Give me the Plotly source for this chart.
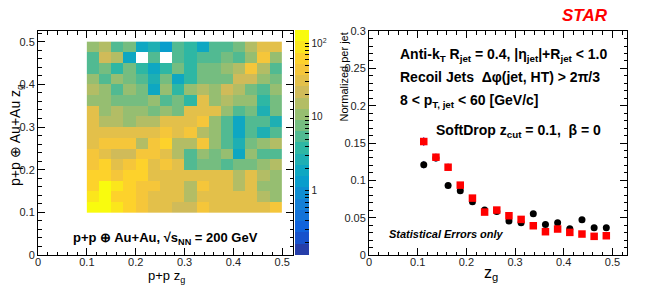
import numpy as np
import plotly.graph_objects as go

W, H = 664, 286

# ---------------- data ----------------
zg_centers = [0.1125, 0.1375, 0.1625, 0.1875, 0.2125, 0.2375, 0.2625, 0.2875,
              0.3125, 0.3375, 0.3625, 0.3875, 0.4125, 0.4375, 0.4625, 0.4875]

# 2D correlation counts: rows = p+p (+) Au+Au z_g (bottom 0.1 -> top 0.5),
# columns = p+p z_g (0.1 -> 0.5); None = empty bin
corr_counts = [
    [127, 127, 90, 63, 44, 31, 31, 22, 22, 44, 31, 31, 31, 31, 31, 44],
    [90, 127, 63, 63, 44, 31, 31, 31, 15, 31, 31, 31, 31, 31, 15, 11],
    [63, 127, 90, 63, 44, 44, 31, 31, 15, 44, 31, 31, 15, 31, 11, 11],
    [63, 63, 44, 63, 63, 31, 31, 31, 31, 31, 31, 31, 15, 31, 15, 11],
    [44, 63, 31, 44, 63, 31, 44, 31, 5.4, 7.6, 7.6, 5.4, 7.6, 7.6, 11, 15],
    [44, 31, 22, 22, 44, 44, 31, 15, 5.4, 11, 7.6, 11, 1.9, 11, 5.4, 5.4],
    [31, 44, 44, 44, 15, 44, 63, 15, 15, 44, 11, 5.4, 2.7, 7.6, 11, 15],
    [31, 31, 31, 31, 31, 31, 44, 31, 44, 15, 11, 5.4, 1.9, 5.4, 2.7, 5.4],
    [31, 15, 15, 11, 15, 15, 31, 31, 31, 44, 11, 5.4, 1.9, 5.4, 5.4, 2.7],
    [31, 11, 15, 11, 11, 7.6, 11, 7.6, 31, 31, 31, 11, 5.4, 7.6, 2.7, 7.6],
    [11, 11, 7.6, 7.6, 7.6, 11, 5.4, 7.6, 3.8, 31, 11, 15, 11, 11, 3.8, 7.6],
    [15, 11, 5.4, 11, 7.6, 1.9, 11, 3.8, 11, 15, 11, 22, 15, 7.6, 5.4, 11],
    [11, 5.4, 11, 7.6, 5.4, 2.7, 7.6, 1.9, 3.8, 7.6, 7.6, 7.6, 22, 22, 11, 7.6],
    [5.4, 7.6, 3.8, 7.6, 3.8, 1.9, 3.8, 7.6, 3.8, 7.6, 7.6, 11, 15, 44, 15, 5.4],
    [5.4, 22, 15, 1.9, None, 5.4, None, 5.4, 3.8, 5.4, 5.4, 7.6, 5.4, 11, 44, 11],
    [11, 15, 5.4, 7.6, 1.9, 2.7, 1.3, 5.4, 3.8, 1.9, 5.4, 5.4, 7.6, 15, 31, 31],
]

# normalized z_g distributions
pp_zg = [0.121, 0.130, 0.093, 0.086, 0.0713, 0.0602, 0.0584, 0.0455,
         0.0432, 0.0553, 0.041, 0.0432, 0.0352, 0.0472, 0.0365, 0.0365]
pp_err = [0.005, 0.005, 0.004, 0.004, 0.003, 0.003, 0.003, 0.0025,
          0.0025, 0.0025, 0.0025, 0.0025, 0.0025, 0.0025, 0.0025, 0.0025]
emb_zg = [0.152, 0.131, 0.1176, 0.0936, 0.0762, 0.0575, 0.0602, 0.0526,
          0.0477, 0.0392, 0.0312, 0.0348, 0.0303, 0.0281, 0.025, 0.0258]
emb_err = [0.006, 0.005, 0.005, 0.004, 0.0035, 0.003, 0.003, 0.0025,
           0.0025, 0.0025, 0.0025, 0.0025, 0.0025, 0.0025, 0.0025, 0.0025]

cb_major = [1, 10, 100]
cb_major_text = ["1", "10", "10<sup>2</sup>"]

# ---------------- styling helpers ----------------
FONT = "Liberation Sans, Arial, Helvetica, sans-serif"
ZMIN, ZMAX = -0.872, 2.18
NCONT = 20


def px(x):
    return x / W


def py(y):
    return 1 - y / H


# ROOT kBird palette
st = [0, .125, .25, .375, .5, .625, .75, .875, 1]
rr = [0.2082, 0.0592, 0.0780, 0.0232, 0.1802, 0.5301, 0.8186, 0.9956, 0.9764]
gg = [0.1664, 0.3599, 0.5041, 0.6419, 0.7178, 0.7492, 0.7328, 0.7862, 0.9832]
bb = [0.5293, 0.8684, 0.8385, 0.7914, 0.6425, 0.4662, 0.3499, 0.1968, 0.0539]


def bird(f):
    r = np.interp(f, st, rr)
    g = np.interp(f, st, gg)
    b = np.interp(f, st, bb)
    return "rgb(%d,%d,%d)" % (round(r * 255), round(g * 255), round(b * 255))


cscale = []
for i in range(NCONT):
    c = bird(min((i + 0.99) / NCONT, 1.0))
    cscale.append([i / NCONT, c])
    cscale.append([(i + 1) / NCONT, c])

cb_vals, cb_text = [], []
for dec in [0.1, 1, 10]:
    for m in range(1, 10):
        v = dec * m
        lv = np.log10(v)
        if ZMIN < lv < ZMAX:
            cb_vals.append(lv)
            rv = round(v, 6)
            cb_text.append(cb_major_text[cb_major.index(int(rv))] if rv in cb_major else "")
cb_vals.append(2.0)
cb_text.append(cb_major_text[2])

z = np.log10(np.array(corr_counts, dtype=float))

fig = go.Figure()
fig.add_trace(go.Heatmap(
    x=zg_centers, y=zg_centers, z=z, zmin=ZMIN, zmax=ZMAX,
    colorscale=cscale, hoverongaps=False,
    colorbar=dict(x=px(295), xanchor="left", xref="paper",
                  y=py(255), yanchor="bottom", len=225 / H, lenmode="fraction",
                  thickness=14, thicknessmode="pixels", xpad=0, ypad=0,
                  outlinewidth=0, ticks="inside", ticklen=4, tickcolor="black",
                  tickvals=cb_vals, ticktext=cb_text,
                  tickfont=dict(family=FONT, size=10, color="#222")),
    xaxis="x", yaxis="y"))

err_col = "#2b3bd0"
fig.add_trace(go.Scatter(
    x=zg_centers, y=pp_zg, mode="markers",
    marker=dict(symbol="circle", size=7, color="black"),
    error_y=dict(type="data", array=pp_err, color=err_col, thickness=1, width=0),
    xaxis="x2", yaxis="y2", showlegend=False))
fig.add_trace(go.Scatter(
    x=zg_centers, y=emb_zg, mode="markers",
    marker=dict(symbol="square", size=7.5, color="#ff0000"),
    error_y=dict(type="data", array=emb_err, color=err_col, thickness=1, width=0),
    xaxis="x2", yaxis="y2", showlegend=False))

ydom = [py(255), py(31)]
common = dict(showline=True, linecolor="black", linewidth=1, mirror="ticks",
              ticks="inside", ticklen=7, tickcolor="black", showgrid=False,
              zeroline=False, tickfont=dict(family=FONT, size=11, color="#222"),
              automargin=False)
xminor = dict(dtick=0.02, ticks="inside", ticklen=3.5, tickcolor="black")

fig.update_layout(
    width=W, height=H, margin=dict(l=0, r=0, t=0, b=0, autoexpand=False),
    paper_bgcolor="white", plot_bgcolor="white", showlegend=False,
    xaxis=dict(domain=[px(38), px(293)], range=[0, 0.522], dtick=0.1, tick0=0,
               minor=xminor, anchor="y", ticklabelstandoff=-3, **common),
    yaxis=dict(domain=ydom, range=[0, 0.525], dtick=0.1, tick0=0,
               minor=xminor, anchor="x", ticklabelstandoff=0, **common),
    xaxis2=dict(domain=[px(369), px(627)], range=[0, 0.53], dtick=0.1, tick0=0,
                minor=xminor, anchor="y2", ticklabelstandoff=-3, **common),
    yaxis2=dict(domain=ydom, range=[0, 0.3001], dtick=0.05, tick0=0,
                minor=dict(dtick=0.01, ticks="inside", ticklen=3.5, tickcolor="black"),
                anchor="x2", ticklabelstandoff=0, **common),
)


def ann(text, x, y, size, xanchor="left", yanchor="middle", color="black", angle=0):
    fig.add_annotation(text=text, x=px(x), y=py(y), xref="paper", yref="paper",
                       xanchor=xanchor, yanchor=yanchor, showarrow=False,
                       textangle=angle, font=dict(family=FONT, size=size, color=color))


ann("<b><i>STAR</i></b>", 585, 16, 17, xanchor="center", color="#ff0000")
ann("<b>Anti-k<sub>T</sub> R<sub>jet</sub> = 0.4, |η<sub>jet</sub>|+R<sub>jet</sub> &lt; 1.0</b>", 398, 55, 14)
ann("<b>Recoil Jets  Δφ(jet, HT) &gt; 2π/3</b>", 398, 77, 14)
ann("<b>8 &lt; p<sub>T, jet</sub> &lt; 60 [GeV/c]</b>", 398, 101, 14)
ann("<b>SoftDrop z<sub>cut</sub> = 0.1,  β = 0</b>", 434, 131, 14)
ann("<b><i>Statistical Errors only</i></b>", 387, 234, 11)
ann("<b>p+p ⊕ Au+Au, √s<sub>NN</sub> = 200 GeV</b>", 71, 238, 13)
ann("p+p ⊕ Au+Au z<sub>g</sub>", 16, 135, 14, xanchor="center", angle=-90)
ann("p+p z<sub>g</sub>", 166, 266, 13, xanchor="center", yanchor="top")
ann("z<sub>g</sub>", 491, 262, 16, xanchor="center", yanchor="top")
ann("Normalized per jet", 344, 31, 11, xanchor="center", yanchor="top", angle=-90)

fig.write_html("out.html", config={"displayModeBar": False},
               post_script="document.body.style.margin='0';document.body.style.padding='0';")
